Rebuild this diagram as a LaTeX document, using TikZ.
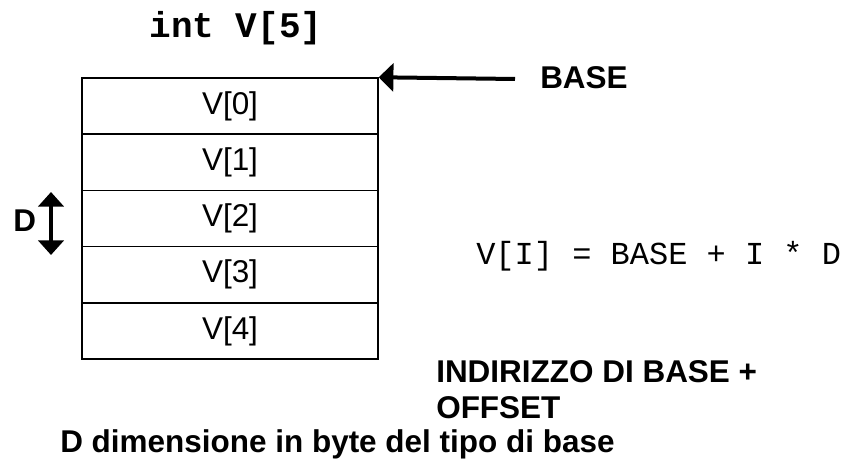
\documentclass[tikz,border=0pt]{standalone}
\usepackage{fontspec}
\setmainfont{Liberation Sans}
\setmonofont{Liberation Mono}
\usetikzlibrary{positioning,arrows.meta}

\begin{document}
\begin{tikzpicture}[x=0.75pt,y=-0.75pt,
    cell/.style={draw,line width=1.1pt,minimum width=222pt,minimum height=42.15pt,inner sep=0pt,font=\fontsize{23.6}{27}\selectfont},
    fat/.style={line width=3pt,-{Triangle[length=11pt,width=21pt]}},
    lbl/.style={inner sep=0pt,font=\fontsize{23.6}{27}\selectfont\bfseries}]
    \useasboundingbox (0,0) rectangle (843,463);

    % Declaration
    \node[inner sep=0pt,anchor=base,font=\fontsize{27}{32}\selectfont\ttfamily\bfseries] (title) at (236,38) {int V[5]};

    % Array cells
    \foreach \i in {0,...,4}
        \node[cell] (v\i) at (230,{106.1+56.2*\i}) {V[\i]};

    % Base address
    \node[lbl,anchor=base west] (base) at (540,89) {BASE};
    \coordinate (basetail) at (515,79);
    \draw[fat] (basetail) -- (v0.north east);

    % Element size
    \node[lbl,anchor=base west] (dlab) at (13,232) {D};
    \coordinate (dtop) at (51,192);
    \coordinate (dbot) at (51,255);
    \draw[line width=3pt,{Triangle[length=11pt,width=19pt]}-{Triangle[length=11pt,width=19pt]}] (dtop) -- (dbot);

    % Address formula
    \node[inner sep=0pt,anchor=base west,font=\fontsize{24}{28}\selectfont\ttfamily] (formula) at (476,265) {V[I] = BASE + I * D};
    \node[lbl,anchor=north west,align=left] (offset) at (436,360.5) {INDIRIZZO DI BASE +\\OFFSET};
    \node[lbl,anchor=base west] (dim) at (60,452) {D dimensione in byte del tipo di base};

\end{tikzpicture}
\end{document}
